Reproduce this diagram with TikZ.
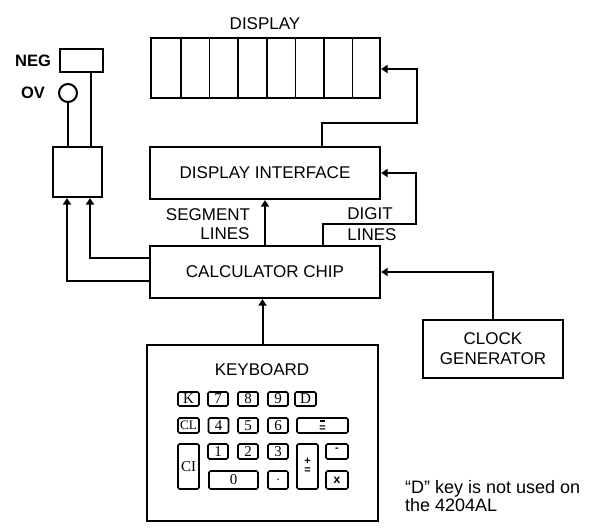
\documentclass[tikz,border=0pt]{standalone}
\usepackage{fontspec}
\setmainfont{Liberation Sans}
\newfontfamily\keyfont{Liberation Serif}
\usetikzlibrary{arrows.meta,calc}
\tikzset{
  blk/.style={draw, line width=2.2pt, minimum width=#1, inner sep=0pt},
  lbl/.style={font=\fontsize{17}{20}\selectfont, inner sep=0pt},
  keyb/.style={draw, line width=1.7pt, rounded corners=1.5pt, inner sep=0pt, font=\keyfont\fontsize{15}{15}\selectfont},
  ksym/.style={inner sep=0pt, font=\bfseries\fontsize{11}{11}\selectfont},
  wire/.style={line width=2pt},
  arr/.style={line width=2pt, -{Triangle[width=8pt,length=6.5pt]}},
}
\begin{document}
\begin{tikzpicture}[x=1pt,y=-1pt]
\useasboundingbox (0,0) rectangle (602,529);
% main blocks
\node[blk=229pt, minimum height=60pt] (disp) at (265.5,68) {};
\foreach \xx in {181,209.6,238.2,266.8,295.4,324,352.6}
  \draw[line width=1.7pt] (\xx,38) -- (\xx,98);
\node[lbl] (displbl) at (265,24) {DISPLAY};
\node[blk=230pt, minimum height=52pt, lbl] (iface) at (265,173) {DISPLAY INTERFACE};
\node[blk=230pt, minimum height=52pt, lbl] (chip) at (265,272) {CALCULATOR CHIP};
\node[blk=140pt, minimum height=58pt, lbl, align=center] (clock) at (493,349) {CLOCK\\GENERATOR};
\node[blk=231pt, minimum height=176pt] (kbd) at (262.5,433) {};
\node[lbl] (kbdlbl) at (262,370) {KEYBOARD};
% left indicators
\node[blk=43pt, minimum height=23pt] (neg) at (81.5,60.5) {};
\node[lbl, font=\bfseries\fontsize{16.5}{18}\selectfont] (neglbl) at (33,61) {NEG};
\node[draw, circle, line width=2pt, minimum size=18pt, inner sep=0pt] (ov) at (68,93) {};
\node[lbl, font=\bfseries\fontsize{16.5}{18}\selectfont] (ovlbl) at (33,93) {OV};
\node[blk=49pt, minimum height=50pt] (sbox) at (77.5,172) {};
% line labels
\node[lbl] (seg1) at (208,215) {SEGMENT};
\node[lbl] (seg2) at (225,234) {LINES};
\node[lbl] (dig1) at (370,214) {DIGIT};
\node[lbl] (dig2) at (372,235) {LINES};
% note
\node[lbl, anchor=west, align=left, font=\fontsize{18}{18}\selectfont] (note) at (405,496) {``D'' key is not used on\\the 4204AL};
% connectors
\coordinate (c1) at (322,123);
\coordinate (c2) at (417,69);
\draw[arr] (iface.north -| c1) -- (c1) -| (c2) -- (disp.east |- c2);
\draw[arr] (chip.north) -- (iface.south);
\coordinate (d1) at (323,224);
\coordinate (d2) at (416,173);
\draw[arr] (chip.north -| d1) -- (d1) -| (d2) -- (iface.east);
\draw[arr] (clock.north) |- (chip.east);
\draw[arr] (kbd.north) -- (chip.south -| kbd.north);
\coordinate (l1) at (90,258);
\coordinate (l2) at (67,281);
\draw[arr] (chip.west |- l1) -- (l1) -- (sbox.south -| l1);
\draw[arr] (chip.west |- l2) -- (l2) -- (sbox.south -| l2);
\draw[wire] (ov.south) -- (sbox.north -| ov.south);
\coordinate (n1) at (91,72);
\draw[wire] (neg.south -| n1) -- (sbox.north -| n1);
% keys
\node[keyb, minimum width=21pt, minimum height=14pt] (kK) at (188.5,399) {K};
\node[keyb, minimum width=20pt, minimum height=14pt] (k7) at (218,399) {7};
\node[keyb, minimum width=20pt, minimum height=14pt] (k8) at (248,399) {8};
\node[keyb, minimum width=20pt, minimum height=14pt] (k9) at (278,399) {9};
\node[keyb, minimum width=21pt, minimum height=14pt] (kD) at (305.5,399) {D};
\node[keyb, minimum width=21pt, minimum height=15pt, font=\keyfont\fontsize{13}{13}\selectfont] (kCL) at (188.5,425.5) {CL};
\node[keyb, minimum width=20pt, minimum height=15pt] (k4) at (218.5,425.5) {4};
\node[keyb, minimum width=20pt, minimum height=15pt] (k5) at (248,425.5) {5};
\node[keyb, minimum width=20pt, minimum height=15pt] (k6) at (278,425.5) {6};
\node[keyb, minimum width=51pt, minimum height=15pt] (keq) at (322.5,425.5) {};
\draw[line width=1.2pt] ($(keq.center)+(-2.5,-4.5)$) -- ($(keq.center)+(2.5,-4.5)$);
\node[ksym] (keqb) at (322.5,428.5) {=};
\node[keyb, minimum width=21pt, minimum height=45pt] (kCI) at (188.5,466.5) {CI};
\node[keyb, minimum width=20pt, minimum height=15pt] (k1) at (218,451.5) {1};
\node[keyb, minimum width=20pt, minimum height=15pt] (k2) at (248,451.5) {2};
\node[keyb, minimum width=20pt, minimum height=15pt] (k3) at (278,451.5) {3};
\node[keyb, minimum width=21pt, minimum height=45pt] (kpe) at (307.5,466.5) {};
\node[ksym] (kpea) at (307.5,461) {+};
\node[ksym] (kpeb) at (307.5,471) {=};
\node[keyb, minimum width=22pt, minimum height=15pt] (kmin) at (337,451.5) {};
\node[ksym] (kmina) at (337,450) {-};
\node[keyb, minimum width=49pt, minimum height=18pt] (k0) at (233.5,480) {0};
\node[keyb, minimum width=20pt, minimum height=18pt] (kdot) at (278,480) {$\cdot$};
\node[keyb, minimum width=22pt, minimum height=18pt] (kx) at (337,480) {};
\node[ksym, font=\bfseries\fontsize{12}{12}\selectfont] (kxa) at (337,480) {x};
\end{tikzpicture}
\end{document}
